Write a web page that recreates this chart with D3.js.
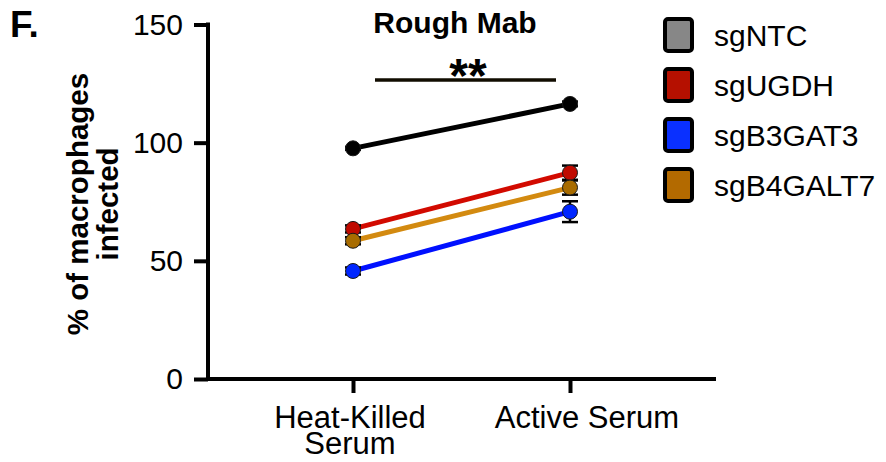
<!DOCTYPE html>
<html><head><meta charset="utf-8">
<script src="https://cdn.jsdelivr.net/npm/d3@7"></script>
<style>
body{margin:0;background:#fff;}
text{font-family:"Liberation Sans",Arial,Helvetica,sans-serif;}
</style></head>
<body><svg id="c" width="886" height="462"></svg>
<script>
const categories = ["Heat-Killed Serum", "Active Serum"];
const categoryLines = [["Heat-Killed","Serum"],["Active Serum"]];
const series = ["sgNTC","sgUGDH","sgB3GAT3","sgB4GALT7"];
const means = {
  sgNTC:     [97.6, 116.4],
  sgUGDH:    [63.5, 87.3],
  sgB3GAT3:  [45.7, 70.8],
  sgB4GALT7: [58.5, 81.0]
};
const sems = {
  sgNTC:     [0.6, 1.0],
  sgUGDH:    [1.5, 3.0],
  sgB3GAT3:  [1.5, 4.4],
  sgB4GALT7: [1.5, 3.0]
};
const yTicks = [0, 50, 100, 150];
const title = "Rough Mab";
const yLabel = ["% of macrophages", "infected"];
const panel = "F.";
const sigText = "**";

const lineColor = {sgNTC:"#000000", sgUGDH:"#d20a00", sgB3GAT3:"#0010ff", sgB4GALT7:"#d38a10"};
const pointColor = {sgNTC:"#000000", sgUGDH:"#c00a00", sgB3GAT3:"#0026ff", sgB4GALT7:"#a86c00"};
const legendColor = {sgNTC:"#878787", sgUGDH:"#b51000", sgB3GAT3:"#0a30ff", sgB4GALT7:"#b36a00"};

const svg = d3.select("#c");
const y = d3.scaleLinear().domain([0,150]).range([379, 24.5]);
const x = d3.scalePoint().domain(categories).range([353, 570]);
const axisX0 = 208;

// y axis
const yAx = svg.append("g").attr("transform",`translate(${axisX0},0)`)
  .call(d3.axisLeft(y).tickValues(yTicks).tickSize(14).tickSizeOuter(0).tickPadding(11));
yAx.select(".domain").attr("stroke","#000").attr("stroke-width",4).attr("d",`M0,${y(150)-2}V${y(0)+2}`);
yAx.selectAll(".tick line").attr("stroke","#000").attr("stroke-width",4);
yAx.selectAll(".tick text").attr("font-size",30).attr("fill","#000").attr("font-family","Liberation Sans, Arial, sans-serif");

// x axis
const xAx = svg.append("g").attr("transform",`translate(0,${y(0)})`)
  .call(d3.axisBottom(x).tickSize(14).tickSizeOuter(0).tickFormat(""));
xAx.select(".domain").attr("stroke","#000").attr("stroke-width",4).attr("d",`M${axisX0},0H716`);
xAx.selectAll(".tick line").attr("stroke","#000").attr("stroke-width",4);
const xOff = [-3, 17];
categories.forEach((c,i)=>{
  const t = svg.append("text").attr("x", x(c)+xOff[i]).attr("y", 428)
    .attr("text-anchor","middle").attr("font-size",31).attr("fill","#000");
  categoryLines[i].forEach((ln,j)=>{
    t.append("tspan").attr("x", x(c)+xOff[i]).attr("dy", j===0?0:26).text(ln);
  });
});

// y label
const yl = svg.append("text").attr("transform","translate(88,204) rotate(-90)")
  .attr("text-anchor","middle").attr("font-size",29.5).attr("font-weight","bold").attr("fill","#000");
yLabel.forEach((ln,j)=>yl.append("tspan").attr("x",0).attr("y",j*30).text(ln));

// panel letter and title
svg.append("text").attr("x",10).attr("y",37).attr("font-size",37).attr("font-weight","bold").text(panel);
svg.append("text").attr("x",455).attr("y",33).attr("text-anchor","middle").attr("font-size",30).attr("font-weight","bold").text(title);

// significance
svg.append("line").attr("x1",375).attr("x2",556).attr("y1",80).attr("y2",80).attr("stroke","#110c00").attr("stroke-width",3.5);
svg.append("text").attr("x",468).attr("y",92).attr("text-anchor","middle").attr("font-size",48).attr("font-weight","bold").text(sigText);

// lines
const lineGen = d3.line().x((d,i)=>x(categories[i])).y(d=>y(d));
series.forEach(s=>{
  svg.append("path").datum(means[s]).attr("d",lineGen).attr("fill","none")
    .attr("stroke",lineColor[s]).attr("stroke-width",5);
});
// error bars and points
series.forEach(s=>{
  const g = svg.append("g");
  means[s].forEach((m,i)=>{
    const cx = x(categories[i]), e = sems[s][i];
    g.append("line").attr("x1",cx).attr("x2",cx).attr("y1",y(m-e)).attr("y2",y(m+e)).attr("stroke","#000").attr("stroke-width",2.5);
    [m-e,m+e].forEach(v=>g.append("line").attr("x1",cx-8).attr("x2",cx+8).attr("y1",y(v)).attr("y2",y(v)).attr("stroke","#000").attr("stroke-width",2.5));
  });
});
series.forEach(s=>{
  means[s].forEach((m,i)=>{
    svg.append("circle").attr("cx",x(categories[i])).attr("cy",y(m)).attr("r",7.5)
      .attr("fill",pointColor[s]).attr("stroke","#1a1a1a").attr("stroke-width",1);
  });
});

// legend
series.forEach((s,i)=>{
  const cy = 35 + i*50;
  svg.append("rect").attr("x",665).attr("y",cy-16).attr("width",27).attr("height",32).attr("rx",3)
    .attr("fill",legendColor[s]).attr("stroke","#000").attr("stroke-width",4);
  svg.append("text").attr("x",714).attr("y",cy+10.5).attr("font-size",30).attr("fill","#000").text(s);
});
</script></body></html>
